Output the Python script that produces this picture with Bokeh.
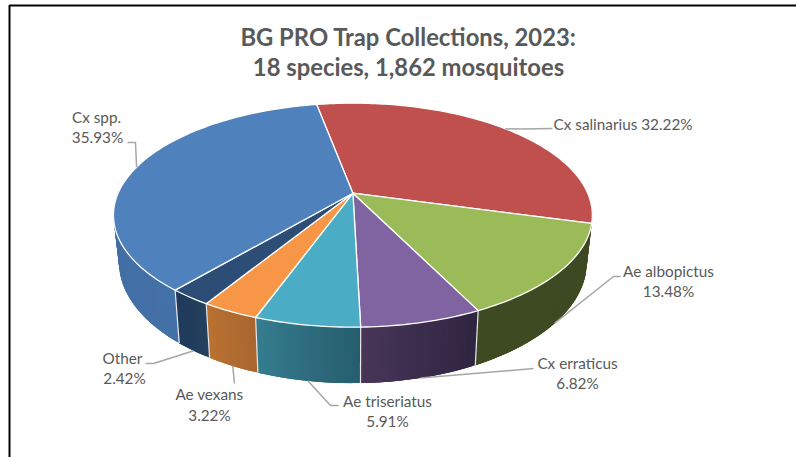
from math import sin, cos, radians
from bokeh.plotting import figure
from bokeh.models import Range1d
from bokeh.core.properties import value
from bokeh.embed import file_html
from bokeh.resources import INLINE

# ---- data (clockwise from the start angle) ----
species = ["Cx salinarius", "Ae albopictus", "Cx erraticus", "Ae triseriatus", "Ae vexans", "Other", "Cx spp."]
percent = [32.22, 13.48, 6.82, 5.91, 3.22, 2.42, 35.93]
title_lines = ["BG PRO Trap Collections, 2023:", "18 species, 1,862 mosquitoes"]

# ---- style ----
top_colors = ["#c0504d", "#9bbb59", "#8064a2", "#4bacc6", "#f79646", "#2c4d75", "#4f81bd"]
# wall colours at the left and right end of each slice's wall (as seen on screen)
wall_left = ["#7a3230", "#3e4a22", "#483558", "#357d90", "#bb7232", "#1f3a5a", "#3e689c"]
wall_right = ["#7a3230", "#3e4a22", "#2e2540", "#265d6d", "#a8662f", "#24415f", "#4471a8"]

# ---- layout (screen pixels) ----
W, H = 796, 457
START = -10.6
CX, CY = 352.4, 192.7
A, B, K = 234.8, 107.7, 0.196   # projected radii and perspective factor
BOTTOM_X, DEPTH = 0.977, 45.0
TEXT = "#595959"
LEADER = "#a6a6a6"

# label lines: x, y, align, for each species
labels = {
    "Cx salinarius": [("Cx salinarius 32.22%", 553, 123, "left")],
    "Ae albopictus": [("Ae albopictus", 668, 270, "center"), ("13.48%", 668, 290, "center")],
    "Cx erraticus": [("Cx erraticus", 577, 362, "center"), ("6.82%", 577, 382, "center")],
    "Ae triseriatus": [("Ae triseriatus", 387, 400, "center"), ("5.91%", 387, 420, "center")],
    "Ae vexans": [("Ae vexans", 209, 393, "center"), ("3.22%", 209, 414, "center")],
    "Other": [("Other", 122, 357, "center"), ("2.42%", 124, 377, "center")],
    "Cx spp.": [("Cx spp.", 96, 116, "center"), ("35.93%", 97, 136, "center")],
}
# leader route from the slice rim to the label, anchor taken from the slice's mid angle
routes = {
    "Cx salinarius": (False, [(520, 128.5), (552, 128)]),
    "Ae albopictus": (True, [(613, 276), (620, 276)]),
    "Cx erraticus": (True, [(533, 368)]),
    "Ae triseriatus": (True, [(330, 405), (338, 405)]),
    "Ae vexans": (True, [(234, 383)]),
    "Other": (True, [(153, 363), (145, 363)]),
    "Cx spp.": (False, [(135, 142), (127, 142)]),
}


def top(deg):
    u, v = sin(radians(deg)), cos(radians(deg))
    d = 1 + K * v
    return CX + A * u / d, CY - B * v / d


def bottom(deg):
    u, v = sin(radians(deg)), cos(radians(deg))
    d = 1 + K * v
    return CX + BOTTOM_X * A * u / d, CY - B * v / d + DEPTH / d


def arc(a0, a1, step=1.0):
    n = max(2, int(abs(a1 - a0) / step) + 1)
    return [a0 + (a1 - a0) * i / (n - 1) for i in range(n)]


def mix(c0, c1, t):
    a = [int(c0[i:i + 2], 16) for i in (1, 3, 5)]
    b = [int(c1[i:i + 2], 16) for i in (1, 3, 5)]
    return "#%02x%02x%02x" % tuple(round(x + (y - x) * t) for x, y in zip(a, b))


p = figure(width=W, height=H, x_range=Range1d(0, W), y_range=Range1d(H, 0),
           output_backend="svg", toolbar_location=None, min_border=0,
           outline_line_color=None, background_fill_color="white", border_fill_color="white")
p.axis.visible = False
p.grid.visible = False

# chart frame (top and left only are in view)
p.line([9, 9, W], [H, 5, 5], line_color="black", line_width=2)

# slice angles
edges = [START]
for v in percent:
    edges.append(edges[-1] + v * 3.6)

# walls, as overlapping strips so that the shading runs across each wall without seams
for i in range(len(percent)):
    a0, a1 = edges[i], edges[i + 1]
    angs = arc(a0, a1, 0.8)
    n = len(angs) - 1
    for j in range(n):
        s0, s1 = angs[j], angs[j + 1]
        if cos(radians(s0)) > 0.05 and cos(radians(s1)) > 0.05:
            continue
        s1b = angs[min(j + 3, n)]          # overlap the next strips
        xa, ya = top(s0); xb, yb = top(s1b)
        xc, yc = bottom(s1b); xd, yd = bottom(s0)
        # angle grows clockwise: at the front, larger angle = further left
        t = 1 - (j + 0.5) / n
        col = mix(wall_left[i], wall_right[i], t)
        p.patch([xa, xb, xc, xd], [ya, yb, yc, yd], fill_color=col, line_color=None)

# wall separators
for e in edges:
    if cos(radians(e)) < 0:
        x0, y0 = top(e); x1, y1 = bottom(e)
        if e > 110:
            p.line([x0, x1], [y0, y1], line_color="#e8e8e8", line_width=1.2)

# top faces
for i in range(len(percent)):
    pts = [top(a) for a in arc(edges[i], edges[i + 1])]
    xs = [CX] + [q[0] for q in pts]
    ys = [CY] + [q[1] for q in pts]
    p.patch(xs, ys, fill_color=top_colors[i], line_color="white", line_width=1.3, line_join="round")

# leaders
for i, name in enumerate(species):
    mid = (edges[i] + edges[i + 1]) / 2
    on_bottom, tail = routes[name]
    ax, ay = bottom(mid) if on_bottom else top(mid)
    p.line([ax] + [q[0] for q in tail], [ay] + [q[1] for q in tail], line_color=LEADER, line_width=1.5)

# labels
for name in species:
    for txt, x, y, al in labels[name]:
        p.text([x], [y], text=[txt], text_font=value("Lato"), text_font_size="15.3px",
               text_color=TEXT, text_align=al, text_baseline="middle")

# title
for txt, y in zip(title_lines, (36, 66)):
    p.text([408], [y], text=[txt], text_font=value("Lato"), text_font_size="23.8px",
           text_font_style="bold", text_color=TEXT, text_align="center", text_baseline="middle")

open("out.html", "w").write(file_html(p, INLINE))
